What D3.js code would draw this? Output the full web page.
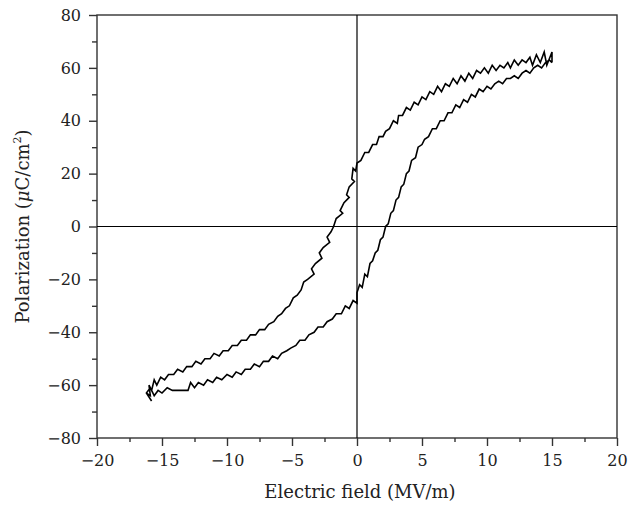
<!DOCTYPE html>
<html>
<head>
<meta charset="utf-8">
<script src="https://cdn.jsdelivr.net/npm/d3@7"></script>
<style>
  html, body { margin: 0; padding: 0; background: #fff; }
  svg { display: block; }
  text { font-family: "DejaVu Serif", serif; fill: #222; }
</style>
</head>
<body>
<svg id="chart" width="639" height="506"></svg>
<script>
// Field values (MV/m) and polarization (uC/cm^2)
const upperBranch = [
  [15.0,62],[15.0,66],[14.6,61],[14.4,66],[14.1,62],[13.8,65],[13.5,61],[13.3,64],[13.0,62],[12.7,63],
  [12.4,61],[12.1,63],[11.8,60],[11.6,62],[11.3,60],[11.0,61],[10.7,59],[10.4,61],[10.1,58],[9.8,60],
  [9.5,58],[9.2,59],[8.9,56],[8.6,58],[8.3,55],[8.0,57],[7.7,54],[7.4,56],[7.1,53],[6.8,54],
  [6.5,51],[6.2,53],[5.9,50],[5.6,51],[5.3,48],[5.0,49],[4.7,46],[4.4,47],[4.1,44],[3.8,45],
  [3.5,42],[3.2,42],[3.1,39],[2.8,40],[2.5,37],[2.2,36],[2.0,34],[1.7,34],[1.5,31],[1.2,31],
  [0.9,28],[0.6,28],[0.3,25],[0.0,24],[-0.1,21],[-0.3,22],[-0.4,18],[-0.2,17],[-0.6,15],[-0.8,12],
  [-0.6,11],[-1.0,9],[-1.3,6],[-1.1,5],[-1.6,3],[-1.8,0],[-2.0,-2],[-2.3,-4],[-2.1,-6],[-2.6,-8],
  [-2.9,-10],[-2.7,-12],[-3.2,-14],[-3.5,-16],[-3.3,-18],[-3.8,-20],[-4.1,-21],[-4.3,-24],[-4.6,-26],[-4.9,-27],
  [-5.2,-30],[-5.5,-31],[-5.8,-33],[-6.1,-34],[-6.4,-36],[-6.8,-37],[-7.1,-39],[-7.5,-39],[-7.8,-41],[-8.2,-41],
  [-8.5,-43],[-8.9,-43],[-9.2,-45],[-9.6,-45],[-9.9,-47],[-10.3,-47],[-10.6,-49],[-11.0,-48],[-11.3,-50],[-11.7,-50],
  [-12.0,-52],[-12.4,-51],[-12.7,-53],[-13.1,-53],[-13.4,-55],[-13.8,-54],[-14.1,-56],[-14.5,-56],[-14.8,-58],[-15.1,-57],
  [-15.4,-60],[-15.6,-58],[-15.8,-62],[-16.0,-60],[-15.9,-64],[-16.2,-63],[-15.8,-66]
];
const lowerBranch = [
  [-16.2,-63],[-15.9,-61],[-15.6,-64],[-15.3,-62],[-15.0,-63],[-14.6,-61],[-14.2,-62],[-13.0,-62],[-12.8,-59],[-12.5,-61],
  [-12.2,-59],[-11.8,-60],[-11.5,-58],[-11.1,-59],[-10.8,-57],[-10.4,-58],[-10.0,-56],[-9.6,-57],[-9.3,-55],[-8.9,-56],
  [-8.6,-54],[-8.2,-54],[-7.9,-52],[-7.5,-53],[-7.2,-51],[-6.8,-51],[-6.5,-49],[-6.1,-50],[-5.8,-48],[-5.4,-47],
  [-5.1,-46],[-4.7,-45],[-4.4,-43],[-4.0,-43],[-3.7,-41],[-3.3,-40],[-3.0,-38],[-2.6,-38],[-2.3,-36],[-1.9,-35],
  [-1.6,-33],[-1.2,-33],[-0.9,-30],[-0.6,-31],[-0.3,-28],[0.0,-29],[0.0,-25],[0.2,-22],[0.4,-23],[0.6,-18],
  [0.8,-19],[1.0,-14],[1.2,-13],[1.4,-10],[1.6,-9],[1.8,-5],[2.0,-4],[2.2,0],[2.4,1],[2.6,5],
  [2.8,6],[3.0,10],[3.2,11],[3.4,15],[3.6,16],[3.8,20],[4.0,21],[4.2,25],[4.5,26],[4.7,30],
  [5.0,31],[5.2,33],[5.5,34],[5.8,37],[6.1,37],[6.4,40],[6.7,40],[7.0,43],[7.3,43],[7.6,46],
  [7.9,45],[8.2,48],[8.5,47],[8.8,50],[9.1,49],[9.4,52],[9.7,51],[10.0,53],[10.3,52],[10.6,54],
  [10.9,55],[11.2,54],[11.5,56],[11.8,56],[12.1,57],[12.4,56],[12.7,58],[13.0,59],[13.3,58],[13.6,60],
  [13.9,61],[14.2,60],[14.5,62],[14.8,63],[15.0,62]
];
const xTicks = [-20, -15, -10, -5, 0, 5, 10, 15, 20];
const yTicks = [-80, -60, -40, -20, 0, 20, 40, 60, 80];
const xMinor = [-17.5, -12.5, -7.5, -2.5, 2.5, 7.5, 12.5, 17.5];
const yMinor = [-70, -50, -30, -10, 10, 30, 50, 70];
const xLabel = "Electric field (MV/m)";

const svg = d3.select("#chart");
const L = 97, R = 617, T = 15, B = 438;
const x = d3.scaleLinear().domain([-20, 20]).range([L, R]);
const y = d3.scaleLinear().domain([-80, 80]).range([B, T]);
const fmt = d => (d < 0 ? "\u2212" + Math.abs(d) : String(d));
const axisColor = "#333";
const FONT = "DejaVu Serif, serif";

// frame
svg.append("rect").attr("x", L).attr("y", T).attr("width", R - L).attr("height", B - T)
  .attr("fill", "none").attr("stroke", axisColor).attr("stroke-width", 1.4);

// zero lines
svg.append("line").attr("x1", x(-20)).attr("x2", x(20)).attr("y1", y(0)).attr("y2", y(0))
  .attr("stroke", "#000").attr("stroke-width", 1.2);
svg.append("line").attr("x1", x(0)).attr("x2", x(0)).attr("y1", y(-80)).attr("y2", y(80))
  .attr("stroke", "#000").attr("stroke-width", 1.2);

// axes
const xAxis = svg.append("g").attr("transform", `translate(0,${B})`)
  .call(d3.axisBottom(x).tickValues(xTicks).tickSize(8).tickPadding(9).tickFormat(fmt));
const xAxisMinor = svg.append("g").attr("transform", `translate(0,${B})`)
  .call(d3.axisBottom(x).tickValues(xMinor).tickSize(4).tickFormat(""));
const yAxis = svg.append("g").attr("transform", `translate(${L},0)`)
  .call(d3.axisLeft(y).tickValues(yTicks).tickSize(8).tickPadding(8).tickFormat(fmt));
const yAxisMinor = svg.append("g").attr("transform", `translate(${L},0)`)
  .call(d3.axisLeft(y).tickValues(yMinor).tickSize(5).tickFormat(""));
[xAxis, xAxisMinor, yAxis, yAxisMinor].forEach(g => {
  g.select(".domain").remove();
  g.selectAll("line").attr("stroke", axisColor).attr("stroke-width", 1.4);
  g.selectAll("text").attr("font-family", FONT).attr("font-size", 16).attr("fill", "#222");
});

// loop
const line = d3.line().x(d => x(d[0])).y(d => y(d[1]));
svg.append("path").datum(upperBranch.concat(lowerBranch)).attr("d", line)
  .attr("fill", "none").attr("stroke", "#000").attr("stroke-width", 1.6).attr("stroke-linejoin", "miter");

// labels
svg.append("text").attr("x", (L + R) / 2 + 3).attr("y", 498).attr("text-anchor", "middle")
  .attr("font-family", FONT).attr("font-size", 18).text(xLabel);
const yl = svg.append("text").attr("transform", `translate(29,${(T + B) / 2}) rotate(-90)`)
  .attr("text-anchor", "middle").attr("font-family", FONT).attr("font-size", 18);
yl.append("tspan").text("Polarization (");
yl.append("tspan").attr("font-style", "italic").text("\u03bc");
yl.append("tspan").text("C/cm");
yl.append("tspan").attr("font-size", 11).attr("dy", -8).text("2");
yl.append("tspan").attr("dy", 8).text(")");
</script>
</body>
</html>
